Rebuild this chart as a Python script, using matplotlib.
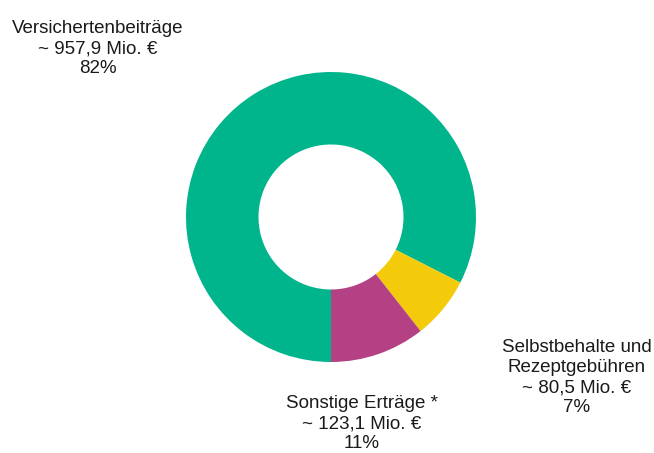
import matplotlib
matplotlib.use("Agg")
import matplotlib.pyplot as plt

plt.rcParams['font.family'] = ['Liberation Sans', 'DejaVu Sans']

categories = ["Versichertenbeiträge", "Selbstbehalte und\nRezeptgebühren", "Sonstige Erträge *"]
values = [957.9, 80.5, 123.1]
value_labels = ["~ 957,9 Mio. €", "~ 80,5 Mio. €", "~ 123,1 Mio. €"]
pct_labels = ["82%", "7%", "11%"]
colors = ["#00B48C", "#F4CB0A", "#B54185"]

W, H = 654, 453
fig = plt.figure(figsize=(W / 100, H / 100), dpi=100)
fig.patch.set_facecolor("white")

cx, cy, r = 331, 217, 145
ax = fig.add_axes([(cx - r) / W, (H - cy - r) / H, 2 * r / W, 2 * r / H])
ax.pie(values, colors=colors, startangle=-90, counterclock=False,
       radius=1.0, wedgeprops=dict(width=0.5, linewidth=0))
ax.set_xlim(-1, 1)
ax.set_ylim(-1, 1)
ax.set_aspect("equal")
ax.axis("off")

# (x center, y of last line baseline) in pixels from top
label_pos = [(98, 73), (577, 412), (362, 448)]
for cat, vl, pl, (px, py) in zip(categories, value_labels, pct_labels, label_pos):
    fig.text(px / W, 1 - py / H, f"{cat}\n{vl}\n{pl}", ha="center", va="baseline",
             fontsize=13.5, color="#1a1a1a", linespacing=1.22,
             multialignment="center")

fig.savefig("out.png", dpi=100)
